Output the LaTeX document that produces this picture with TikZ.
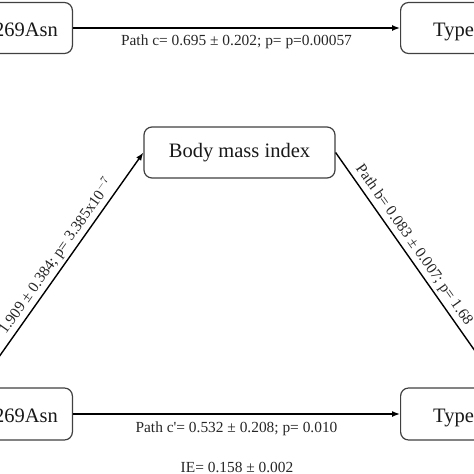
\documentclass[tikz,border=0pt]{standalone}
\usepackage{fontspec}
\setmainfont{Liberation Serif}
\usetikzlibrary{arrows.meta,calc}
\tikzset{
  box/.style={draw=black!75, line width=1.2pt, rounded corners=8pt, fill=white, inner sep=0pt},
  boxtxt/.style={font=\fontsize{20.5}{24}\selectfont, text=black!90, inner sep=0pt},
  lbl/.style={font=\fontsize{15.4}{18}\selectfont, text=black!85, inner sep=1pt},
  arr/.style={line width=1.4pt, -{Latex[length=8pt,width=6pt]}}
}
\begin{document}
\begin{tikzpicture}[x=1pt,y=1pt]
\useasboundingbox (0,-474) rectangle (474,0);
\clip (0,-474) rectangle (474,0);
% boxes
\node[box, minimum width=190pt, minimum height=51pt, anchor=east] (g1) at (73,-28) {};
\node[box, minimum width=200pt, minimum height=51pt, anchor=west] (t1) at (400,-28) {};
\node[box, minimum width=190pt, minimum height=52pt, anchor=east] (g2) at (73,-414) {};
\node[box, minimum width=200pt, minimum height=52pt, anchor=west] (t2) at (400,-414) {};
\node[box, boxtxt, minimum width=191pt, minimum height=51pt] (bmi) at (239.5,-152.5) {Body mass index};
% box texts
\node[boxtxt, anchor=base east] (g1t) at (58,-36) {269Asn};
\node[boxtxt, anchor=base west] (t1t) at (433,-36) {Type};
\node[boxtxt, anchor=base east] (g2t) at (58,-422) {269Asn};
\node[boxtxt, anchor=base west] (t2t) at (433,-422) {Type};
% connectors
\draw[arr] (g1.east) -- (t1.west)
  node[lbl, midway, yshift=-14pt] (lc) {Path c= 0.695 ± 0.202; p= p=0.00057};
\draw[arr] (g2.east) -- (t2.west)
  node[lbl, midway, yshift=-15pt] (lcp) {Path c\textquotesingle= 0.532 ± 0.208; p= 0.010};
\draw[arr] (g2.north) -- (bmi.west)
  node[lbl, sloped, pos=0.53, anchor=south, yshift=2pt] (la) {1.909 ± 0.384; p= 3.385x10$^{-7}$};
\draw[arr] (bmi.east) -- (t2.north)
  node[lbl, sloped, pos=0.08, anchor=south west, yshift=2pt] (lb) {Path b= 0.083 ± 0.007; p= 1.68};
\node[lbl] (ie) at (237,-467) {IE= 0.158 ± 0.002};
\end{tikzpicture}
\end{document}
